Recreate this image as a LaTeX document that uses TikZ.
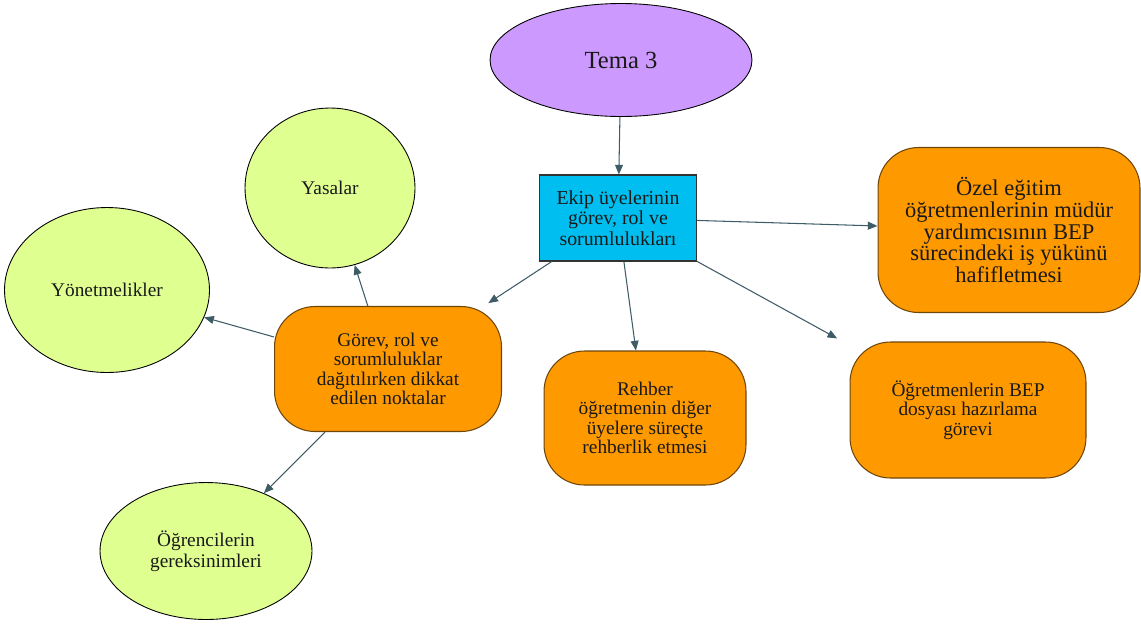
\documentclass[tikz,border=0pt]{standalone}
\usepackage{fontspec}
\setmainfont{Liberation Serif}
\usetikzlibrary{arrows.meta,shapes.geometric}
\definecolor{temamor}{RGB}{204,153,255}
\definecolor{ekipmavi}{RGB}{0,191,240}
\definecolor{kututuruncu}{RGB}{255,153,0}
\definecolor{kutukenar}{RGB}{110,70,10}
\definecolor{oval}{RGB}{223,255,145}
\definecolor{okrenk}{RGB}{62,92,102}

\begin{document}
\begin{tikzpicture}[x=0.02cm,y=-0.02cm]
	\tikzstyle{every node}+=[inner sep=0pt,text=black!90]
	\tikzstyle{yesil}=[ellipse,draw=black,fill=oval,line width=0.5pt,align=center,font=\fontsize{11}{12}\selectfont]
	\tikzstyle{turuncu}=[rectangle,rounded corners=23pt,draw=kutukenar,fill=kututuruncu,line width=0.6pt,align=center,font=\fontsize{11}{11}\selectfont]
	\tikzstyle{ok}=[draw=okrenk,line width=0.6pt,-{Triangle[length=5.5pt,width=4.5pt]}]
	\useasboundingbox (0,0) rectangle (1141,623);
	% ust kisim
	\node [ellipse,draw=black,fill=temamor,line width=0.5pt,minimum width=5.24cm,minimum height=2.26cm,font=\fontsize{14}{14}\selectfont] (tema) at (621,60) {Tema 3};
	\node [rectangle,draw=black!80,fill=ekipmavi,line width=0.6pt,minimum width=3.14cm,minimum height=1.72cm,align=center,font=\fontsize{11.3}{11.6}\selectfont] (ekip) at (618,218) {Ekip üyelerinin\\görev, rol ve\\sorumlulukları};
	% turuncu kutular
	\node [turuncu,minimum width=5.24cm,minimum height=3.3cm,font=\fontsize{12.8}{12.3}\selectfont] (ozel) at (1009,230) {Özel eğitim\\öğretmenlerinin müdür\\yardımcısının BEP\\sürecindeki iş yükünü\\hafifletmesi};
	\node [turuncu,minimum width=4.54cm,minimum height=2.5cm] (gorev) at (388,369) {Görev, rol ve\\sorumluluklar\\dağıtılırken dikkat\\edilen noktalar};
	\node [turuncu,minimum width=4.04cm,minimum height=2.68cm] (rehber) at (645,418) {Rehber\\öğretmenin diğer\\üyelere süreçte\\rehberlik etmesi};
	\node [turuncu,minimum width=4.72cm,minimum height=2.72cm] (bep) at (968,410) {Öğretmenlerin BEP\\dosyası hazırlama\\görevi};
	% yesil ovaller
	\node [yesil,minimum width=3.4cm,minimum height=3.2cm] (yasa) at (330,188) {Yasalar};
	\node [yesil,minimum width=4.1cm,minimum height=3.3cm] (yonet) at (107,290) {Yönetmelikler};
	\node [yesil,minimum width=4.24cm,minimum height=2.74cm] (ogrenci) at (206,551) {Öğrencilerin\\gereksinimleri};
	% oklar
	\draw [ok] (tema) -- (ekip);
	\draw [ok] (ekip) -- (ozel);
	\draw [ok,shorten >=3pt] (ekip) -- (gorev);
	\draw [ok] (ekip) -- (rehber);
	\draw [ok,shorten >=8pt] (ekip) -- (bep);
	\draw [ok] (gorev) -- (yasa);
	\draw [ok] (gorev) -- (yonet);
	\draw [ok] (gorev) -- (ogrenci);
\end{tikzpicture}
\end{document}
